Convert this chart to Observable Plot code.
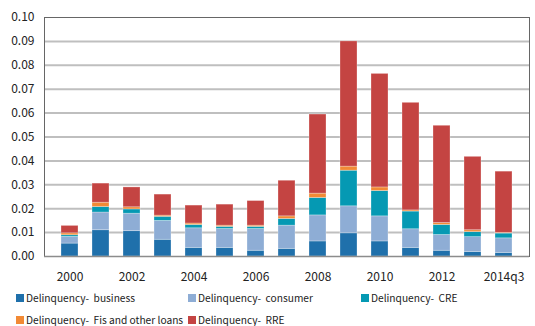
<!DOCTYPE html>
<html><head><meta charset="utf-8">
<script src="https://cdn.jsdelivr.net/npm/d3@7"></script>
<script src="https://cdn.jsdelivr.net/npm/@observablehq/plot@0.6"></script>
<style>
html,body{margin:0;background:#fff;font-family:"Noto Sans CJK KR","Noto Sans",sans-serif;overflow:hidden;}
#wrap{position:relative;width:535px;height:326px;}
#legend{position:absolute;left:16px;top:292px;width:520px;font-size:10.2px;line-height:12px;color:#222;}
.item{position:absolute;display:flex;align-items:center;white-space:nowrap;height:12px;}
.sw{width:8px;height:8px;margin-right:2px;}
svg{display:block;}
</style></head>
<body><div id="wrap"><div id="chart"></div><div id="legend"></div></div>
<script>
const categories = ["2000","2001","2002","2003","2004","2005","2006","2007","2008","2009","2010","2011","2012","2013","2014q3"];
const tickLabels = ["2000","2002","2004","2006","2008","2010","2012","2014q3"];
const seriesNames = ["Delinquency- business","Delinquency- consumer","Delinquency- CRE","Delinquency- Fis and other loans","Delinquency- RRE"];
const colors = ["#1f70ab","#8eadd5","#0599b3","#f28a35","#c44442"];
const business = [0.0054,0.0110,0.0106,0.0070,0.0036,0.0036,0.0024,0.0032,0.0063,0.0097,0.0063,0.0036,0.0024,0.0019,0.0015];
const consumer = [0.0028,0.0074,0.0073,0.0079,0.0082,0.0079,0.0091,0.0097,0.0109,0.0113,0.0105,0.0078,0.0066,0.0062,0.0061];
const cre      = [0.0007,0.0023,0.0018,0.0017,0.0014,0.0009,0.0009,0.0028,0.0073,0.0149,0.0106,0.0074,0.0042,0.0021,0.0020];
const fis      = [0.0008,0.0018,0.0009,0.0005,0.0006,0.0005,0.0005,0.0011,0.0018,0.0017,0.0015,0.0005,0.0008,0.0008,0.0003];
const rre      = [0.0031,0.0080,0.0083,0.0088,0.0075,0.0088,0.0103,0.0149,0.0331,0.0524,0.0475,0.0450,0.0407,0.0307,0.0256];
const seriesValues = [business, consumer, cre, fis, rre];
const data = [];
seriesValues.forEach((vals, si) => vals.forEach((v, i) => data.push({cat: categories[i], series: seriesNames[si], value: v})));

const chart = Plot.plot({
  width: 535, height: 288,
  marginLeft: 44, marginRight: 6, marginTop: 17, marginBottom: 32,
  style: {fontFamily: '"Noto Sans CJK KR","Noto Sans",sans-serif', fontSize: "12px", color: "#222", background: "#fff"},
  x: {domain: categories, padding: 0.44, label: null, tickSize: 0, tickPadding: 16, ticks: tickLabels},
  y: {domain: [0, 0.1], ticks: d3.range(0, 0.1001, 0.01), tickFormat: d => d.toFixed(2), label: null, tickSize: 0, tickPadding: 10},
  color: {domain: seriesNames, range: colors},
  marks: [
    Plot.ruleY(d3.range(0.01, 0.0951, 0.01), {stroke: "#bfbfbf", strokeWidth: 2}),
    Plot.barY(data, {x: "cat", y: "value", fill: "series", order: seriesNames, stroke: "#ffffff", strokeOpacity: 0.35, strokeWidth: 0.8}),
    Plot.frame({stroke: "#666", strokeWidth: 1}),
    Plot.ruleY([0], {stroke: "#8c8c8c", strokeWidth: 1.5})
  ]
});
document.getElementById("chart").appendChild(chart);

const legend = document.getElementById("legend");
const pos = [[0,0],[172,0],[345,0],[0,22],[172,22]];
seriesNames.forEach((name, i) => {
  const it = document.createElement("div");
  it.className = "item";
  it.style.left = pos[i][0] + "px"; it.style.top = pos[i][1] + "px";
  it.innerHTML = `<span class="sw" style="background:${colors[i]}"></span><span>${name.replace("- ", "-&nbsp; ")}</span>`;
  legend.appendChild(it);
});
</script></body></html>
